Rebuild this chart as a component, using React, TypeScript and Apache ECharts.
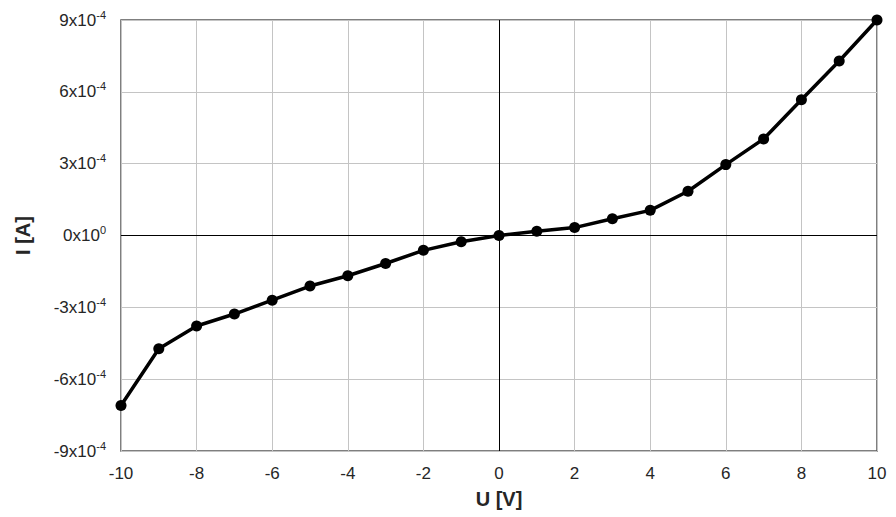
import React, { useEffect, useRef } from "react";
import * as echarts from "echarts";

const voltages = [-10, -9, -8, -7, -6, -5, -4, -3, -2, -1, 0, 1, 2, 3, 4, 5, 6, 7, 8, 9, 10];
const currents = [
  -7.1e-4, -4.73e-4, -3.78e-4, -3.28e-4, -2.7e-4, -2.11e-4, -1.68e-4, -1.17e-4, -0.62e-4, -0.26e-4,
  0, 0.18e-4, 0.33e-4, 0.7e-4, 1.05e-4, 1.85e-4, 2.96e-4, 4.03e-4, 5.67e-4, 7.29e-4, 9.0e-4,
];
const xTitle = "U [V]";
const yTitle = "I [A]";
const yExponent = -4;

const FONT = "'Liberation Sans', Arial, sans-serif";
const TEXT = "#262626";

export default function App() {
  const ref = useRef<HTMLDivElement>(null);
  useEffect(() => {
    if (!ref.current) return;
    const chart = echarts.init(ref.current, null, { renderer: "svg" });
    const scale = Math.pow(10, yExponent);
    chart.setOption({
      animation: false,
      backgroundColor: "#ffffff",
      grid: {
        left: 121,
        right: 19,
        top: 20,
        bottom: 66,
        show: true,
        borderColor: "#555555",
        borderWidth: 1.5,
      },
      xAxis: {
        type: "value",
        min: -10,
        max: 10,
        interval: 2,
        name: xTitle,
        nameLocation: "middle",
        nameGap: 38,
        nameTextStyle: { fontFamily: FONT, fontSize: 20, fontWeight: "bold", color: TEXT },
        axisLine: { show: false },
        axisTick: { show: false },
        axisLabel: { fontFamily: FONT, fontSize: 17, color: TEXT, margin: 14 },
        splitLine: { show: true, lineStyle: { color: "#c4c4c4", width: 1 } },
      },
      yAxis: {
        type: "value",
        min: -9 * scale,
        max: 9 * scale,
        interval: 3 * scale,
        name: yTitle,
        nameLocation: "middle",
        nameGap: 88,
        nameTextStyle: { fontFamily: FONT, fontSize: 20, fontWeight: "bold", color: TEXT },
        axisLine: { show: false },
        axisTick: { show: false },
        axisLabel: {
          margin: 15,
          formatter: (v: number) => {
            const m = Math.round(v / scale);
            if (m === 0) return "{b|0x10}{s|0}";
            return "{b|" + m + "x10}{s|" + yExponent + "}";
          },
          rich: {
            b: { fontFamily: FONT, fontSize: 17, color: TEXT },
            s: { fontFamily: FONT, fontSize: 11, color: TEXT, padding: [0, 0, 11, 0] },
          },
        },
        splitLine: { show: true, lineStyle: { color: "#c4c4c4", width: 1 } },
      },
      series: [
        {
          type: "line",
          data: voltages.map((v, i) => [v, currents[i]]),
          symbol: "circle",
          symbolSize: 11,
          lineStyle: { color: "#000", width: 3.5 },
          itemStyle: { color: "#000" },
          markLine: {
            silent: true,
            symbol: "none",
            label: { show: false },
            lineStyle: { color: "#000", width: 1, type: "solid" },
            data: [{ xAxis: 0 }, { yAxis: 0 }],
          },
          z: 5,
        },
      ],
    });
    return () => chart.dispose();
  }, []);
  return <div ref={ref} style={{ width: 896, height: 517, position: "absolute", left: 0, top: 0 }} />;
}
